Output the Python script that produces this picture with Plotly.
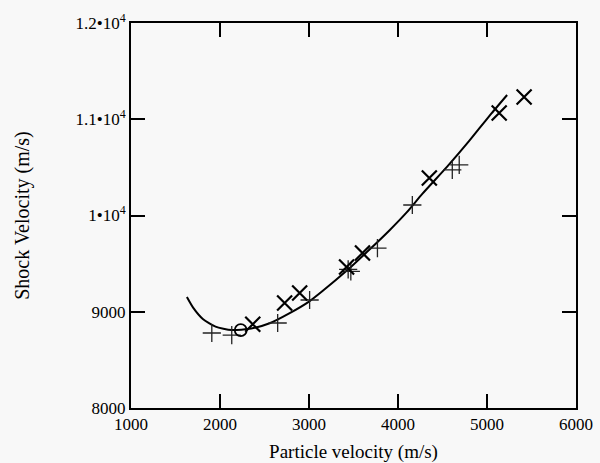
import plotly.graph_objects as go

# Data
plus_x = [1908, 2132, 2648, 3007, 3440, 3470, 3769, 4161, 4610, 4688]
plus_y = [8779, 8758, 8883, 9122, 9440, 9420, 9662, 10109, 10473, 10525]

cross_x = [2368, 2726, 2895, 3422, 3601, 4352, 5137, 5417]
cross_y = [8870, 9091, 9195, 9465, 9610, 10390, 11065, 11231]

circle_x = [2233]
circle_y = [8810]

fit_x = [1628, 1700, 1807, 1950, 2130, 2350, 2558, 2783, 3000, 3152, 3422, 3650,
         3903, 4100, 4273, 4550, 4800, 4913, 5050, 5226]
fit_y = [9153, 9040, 8925, 8845, 8810, 8825, 8880, 8985, 9105, 9215, 9425, 9620,
         9845, 10035, 10225, 10505, 10775, 10905, 11060, 11252]

x_ticks = [1000, 2000, 3000, 4000, 5000, 6000]
y_ticks = [8000, 9000, 10000, 11000, 12000]
y_ticktext = ["8000", "9000", "1•10<sup>4</sup>", "1.1•10<sup>4</sup>", "1.2•10<sup>4</sup>"]

fig = go.Figure()
fig.add_trace(go.Scatter(x=fit_x, y=fit_y, mode="lines",
                         line=dict(color="black", width=2, shape="spline", smoothing=0.6),
                         showlegend=False))
fig.add_trace(go.Scatter(x=plus_x, y=plus_y, mode="markers",
                         marker=dict(symbol="cross-thin-open", size=13, color="#222",
                                     line=dict(color="#222", width=1.3)),
                         showlegend=False))
fig.add_trace(go.Scatter(x=cross_x, y=cross_y, mode="markers",
                         marker=dict(symbol="x-thin-open", size=15, color="black",
                                     line=dict(color="black", width=2.2)),
                         showlegend=False))
fig.add_trace(go.Scatter(x=circle_x, y=circle_y, mode="markers",
                         marker=dict(symbol="circle-open", size=12, color="black",
                                     line=dict(color="black", width=1.8)),
                         showlegend=False))

font = dict(family="Liberation Serif, Times New Roman, serif", color="black", size=17)
fig.update_layout(
    width=600, height=463,
    margin=dict(l=131, r=24, t=23, b=55),
    paper_bgcolor="#f8f8f8", plot_bgcolor="#f8f8f8",
    font=font,
    xaxis=dict(range=[1000, 6000], tickvals=x_ticks, ticktext=[str(v) for v in x_ticks],
               ticks="inside", ticklen=14, tickwidth=2, tickcolor="black",
               showline=True, linecolor="black", linewidth=2, mirror="ticks",
               showgrid=False, zeroline=False, automargin=False,
               title=dict(text="Particle velocity (m/s)", font=dict(size=19), standoff=12)),
    yaxis=dict(range=[8000, 12000], tickvals=y_ticks, ticktext=y_ticktext,
               ticks="inside", ticklen=14, tickwidth=2, tickcolor="black",
               showline=True, linecolor="black", linewidth=2, mirror="ticks",
               showgrid=False, zeroline=False, automargin=False,
               title=dict(text="Shock Velocity (m/s)", font=dict(size=20), standoff=40)),
)
fig.write_html("out.html", config={"displayModeBar": False},
               post_script="document.body.style.margin='0';document.body.style.background='#f8f8f8';")
